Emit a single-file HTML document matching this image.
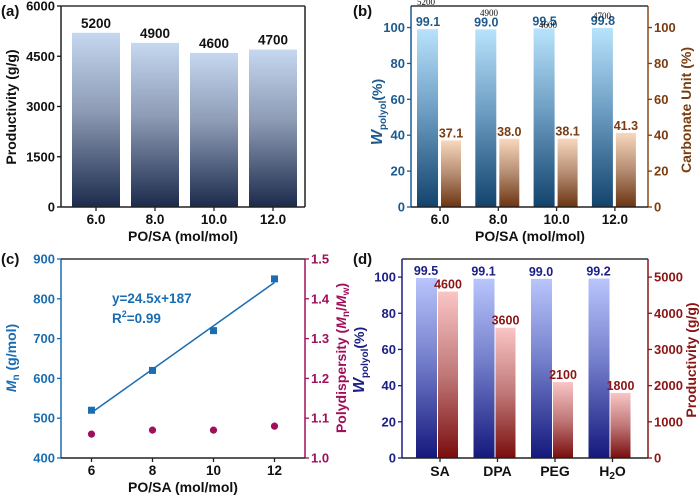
<!DOCTYPE html>
<html><head><meta charset="utf-8">
<style>
html,body{margin:0;padding:0;background:#fff;}
svg{display:block;font-family:"Liberation Sans",Arial,sans-serif;font-weight:bold;}
</style></head>
<body>
<svg id="fig" width="700" height="496" viewBox="0 0 700 496" xmlns="http://www.w3.org/2000/svg">
<defs>
<linearGradient id="gA" x1="0" y1="0" x2="0" y2="1"><stop offset="0" stop-color="#c6d7f0"/><stop offset="0.45" stop-color="#8d9bb5"/><stop offset="1" stop-color="#1c2b4c"/></linearGradient>
<linearGradient id="gB1" x1="0" y1="0" x2="0" y2="1"><stop offset="0" stop-color="#b9e3fc"/><stop offset="0.45" stop-color="#6f9fc4"/><stop offset="1" stop-color="#12436d"/></linearGradient>
<linearGradient id="gB2" x1="0" y1="0" x2="0" y2="1"><stop offset="0" stop-color="#f8d8bd"/><stop offset="0.5" stop-color="#b58d72"/><stop offset="1" stop-color="#6c3411"/></linearGradient>
<linearGradient id="gD1" x1="0" y1="0" x2="0" y2="1"><stop offset="0" stop-color="#b9c5fc"/><stop offset="0.45" stop-color="#7580cc"/><stop offset="1" stop-color="#14187c"/></linearGradient>
<linearGradient id="gD2" x1="0" y1="0" x2="0" y2="1"><stop offset="0" stop-color="#fac5c5"/><stop offset="0.5" stop-color="#c07878"/><stop offset="1" stop-color="#7a0d0d"/></linearGradient>
</defs>
</svg>
<script>
// ---- data ----
const catsA = ["6.0","8.0","10.0","12.0"];
const prodA = [5200,4900,4600,4700];
const ticksA = [0,1500,3000,4500,6000];
const catsB = ["6.0","8.0","10.0","12.0"];
const wpolB = [99.1,99.0,99.5,99.8];
const wpolLabelsB = ["99.1","99.0","99.5","99.8"];
const carbB = [37.1,38.0,38.1,41.3];
const ticksB = [0,20,40,60,80,100];
const xC = [6,8,10,12];
const mnC = [520,620,720,850];
const pdiC = [1.06,1.07,1.07,1.08];
const ticksCx = [6,8,10,12];
const ticksCl = [400,500,600,700,800,900];
const ticksCr = [1.0,1.1,1.2,1.3,1.4,1.5];
const catsD = ["SA","DPA","PEG","H2O"];
const wpolD = [99.5,99.1,99.0,99.2];
const prodD = [4600,3600,2100,1800];
const ticksDl = [0,20,40,60,80,100];
const ticksDr = [0,1000,2000,3000,4000,5000];

const NS="http://www.w3.org/2000/svg";
const svg=document.getElementById('fig');
function el(tag,attrs,parent,txt){const e=document.createElementNS(NS,tag);for(const k in attrs)e.setAttribute(k,attrs[k]);if(txt!==undefined)e.textContent=txt;(parent||svg).appendChild(e);return e;}
function lin(d0,d1,r0,r1){return v=>r0+(v-d0)*(r1-r0)/(d1-d0);}
function axisY(x,ticks,scale,color,side,fmt,g){
  ticks.forEach(t=>{const y=scale(t);
    el('line',{x1:x,x2:x+(side<0?-4:4),y1:y,y2:y,stroke:color,'stroke-width':1.3},g);
    const tx=el('text',{x:x+(side<0?-6:6),y:y+4.5,'font-size':13,fill:color,'text-anchor':side<0?'end':'start'},g,fmt?fmt(t):String(t));
    
    
  });
}
function frame(x0,y0,x1,y1,lc,rc,bc,g){
  el('line',{x1:x0,x2:x0,y1:y0,y2:y1,stroke:lc,'stroke-width':1.5},g);
  el('line',{x1:x1,x2:x1,y1:y0,y2:y1,stroke:rc,'stroke-width':1.5},g);
  el('line',{x1:x0,x2:x1,y1:y0,y2:y0,stroke:'#333','stroke-width':1.5},g);
  el('line',{x1:x0,x2:x1,y1:y1,y2:y1,stroke:bc,'stroke-width':1.5},g);
}
function group(name){const g=el('g',{});return g;}

// ---- Panel A ----
(function(){
  const g=group('panel-a');
  const X0=61,X1=305,Y0=6,Y1=207;
  const y=lin(0,6000,Y1,Y0);
  const cx=i=>96+i*59;
  prodA.forEach((v,i)=>{
    const r=el('rect',{x:cx(i)-24,y:y(v),width:48,height:Y1-y(v),fill:'url(#gA)'},g);
    
    
    const t=el('text',{x:cx(i),y:y(v)-5,'font-size':13.5,'text-anchor':'middle',fill:'#111'},g,String(v));
    
    
    el('line',{x1:cx(i),x2:cx(i),y1:Y1,y2:Y1+4,stroke:'#222','stroke-width':1.3},g);
    el('text',{x:cx(i),y:Y1+17,'font-size':13.5,'text-anchor':'middle',fill:'#111'},g,catsA[i]);
  });
  frame(X0,Y0,X1,Y1,'#222','#222','#222',g);
  axisY(X0,ticksA,y,'#111',-1,null,g);
  el('text',{x:183,y:241,'font-size':14,'text-anchor':'middle',fill:'#111'},g,'PO/SA (mol/mol)');
  el('text',{x:0,y:0,'font-size':14,'text-anchor':'middle',fill:'#111',transform:'translate(16,107) rotate(-90)'},g,'Productivity (g/g)');
  el('text',{x:1,y:16,'font-size':15,fill:'#111'},g,'(a)');
})();

// ---- Panel B ----
(function(){
  const g=group('panel-b');
  const X0=411,X1=648,Y0=6,Y1=207;
  const y=lin(0,112,Y1,Y0);
  const cx=i=>440+i*58.3;
  const bc='#1d5a8f', rc='#7a3c10';
  wpolB.forEach((v,i)=>{
    const r=el('rect',{x:cx(i)-23,y:y(v),width:21,height:Y1-y(v),fill:'url(#gB1)'},g);
    
    
    el('text',{x:cx(i)-12,y:y(v)-3,'font-size':12.5,'text-anchor':'middle',fill:bc},g,wpolLabelsB[i]);
    const c=carbB[i];
    const r2=el('rect',{x:cx(i)+1,y:y(c),width:20,height:Y1-y(c),fill:'url(#gB2)'},g);
    
    
    el('text',{x:cx(i)+11,y:y(c)-3,'font-size':12.5,'text-anchor':'middle',fill:rc},g,c.toFixed(1));
    el('line',{x1:cx(i),x2:cx(i),y1:Y1,y2:Y1+4,stroke:'#222','stroke-width':1.3},g);
    el('text',{x:cx(i),y:Y1+17,'font-size':13.5,'text-anchor':'middle',fill:'#111'},g,catsB[i]);
  });
  // stray overlay labels (artifacts in original)
  const st=[["5200",417,5],["4900",480,16],["4600",539,28],["4700",593,19]];
  st.forEach(s=>el('text',{x:s[1],y:s[2],'font-size':9,'font-family':'Liberation Serif,serif','font-weight':'normal',fill:'#111'},g,s[0]));
  frame(X0,Y0,X1,Y1,bc,'#8a4a1a','#222',g);
  axisY(X0,ticksB,y,bc,-1,null,g);
  axisY(X1,ticksB,y,rc,1,null,g);
  el('text',{x:530,y:241,'font-size':14,'text-anchor':'middle',fill:'#111'},g,'PO/SA (mol/mol)');
  const t=el('text',{x:0,y:0,'font-size':14,'text-anchor':'middle',fill:bc,transform:'translate(382,112) rotate(-90)'},g);
  
  el('tspan',{'font-style':'italic','font-size':16},t,'W');
  el('tspan',{'font-size':10,dy:4},t,'polyol');
  el('tspan',{dy:-4},t,'(%)');
  el('text',{x:0,y:0,'font-size':14,'text-anchor':'middle',fill:rc,transform:'translate(691,110) rotate(-90)'},g,'Carbonate Unit (%)');
  el('text',{x:353,y:16,'font-size':15,fill:'#111'},g,'(b)');
})();

// ---- Panel C ----
(function(){
  const g=group('panel-c');
  const X0=61,X1=305,Y0=259,Y1=458;
  const x=lin(5,13,X0,X1), yl=lin(400,900,Y1,Y0), yr=lin(1.0,1.5,Y1,Y0);
  const bc='#1a6db3', mc='#a0105a';
  // regression
  const n=xC.length, mx=xC.reduce((a,b)=>a+b)/n, my=mnC.reduce((a,b)=>a+b)/n;
  let sxy=0,sxx=0; xC.forEach((v,i)=>{sxy+=(v-mx)*(mnC[i]-my);sxx+=(v-mx)*(v-mx);});
  const sl=sxy/sxx, ic=my-sl*mx;
  const fx0=xC[0], fx1=xC[n-1];
  const fl=el('line',{x1:x(fx0),y1:yl(sl*fx0+ic),x2:x(fx1),y2:yl(sl*fx1+ic),stroke:bc,'stroke-width':1.5},g);
  
  
  xC.forEach((v,i)=>{
    const s=el('rect',{x:x(v)-3.5,y:yl(mnC[i])-3.5,width:7,height:7,fill:bc},g);
    
    
    const c=el('circle',{cx:x(v),cy:yr(pdiC[i]),r:3.6,fill:mc},g);
    
    
  });
  ticksCx.forEach(t=>{
    el('line',{x1:x(t),x2:x(t),y1:Y1,y2:Y1+4,stroke:'#222','stroke-width':1.3},g);
    el('text',{x:x(t),y:Y1+17,'font-size':13.5,'text-anchor':'middle',fill:'#111'},g,String(t));
  });
  frame(X0,Y0,X1,Y1,bc,mc,'#222',g);
  axisY(X0,ticksCl,yl,bc,-1,null,g);
  axisY(X1,ticksCr,yr,mc,1,t=>t.toFixed(1),g);
  el('text',{x:112,y:303,'font-size':13.5,fill:bc},g,'y=24.5x+187');
  const r2=el('text',{x:112,y:323,'font-size':13.5,fill:bc},g);
  
  el('tspan',{},r2,'R');el('tspan',{'font-size':9,dy:-6},r2,'2');el('tspan',{dy:6},r2,'=0.99');
  el('text',{x:183,y:492,'font-size':14,'text-anchor':'middle',fill:'#111'},g,'PO/SA (mol/mol)');
  const t=el('text',{x:0,y:0,'font-size':14,'text-anchor':'middle',fill:bc,transform:'translate(16,358) rotate(-90)'},g);
  
  el('tspan',{'font-style':'italic'},t,'M');el('tspan',{'font-size':10,dy:3},t,'n');el('tspan',{dy:-3},t,' (g/mol)');
  const t2=el('text',{x:0,y:0,'font-size':14,'text-anchor':'middle',fill:mc,transform:'translate(346,358) rotate(-90)'},g);
  
  el('tspan',{},t2,'Polydispersity (');el('tspan',{'font-style':'italic'},t2,'M');el('tspan',{'font-size':10,dy:3},t2,'n');
  el('tspan',{dy:-3},t2,'/');el('tspan',{'font-style':'italic'},t2,'M');el('tspan',{'font-size':10,dy:3},t2,'w');el('tspan',{dy:-3},t2,')');
  el('text',{x:1,y:264,'font-size':15,fill:'#111'},g,'(c)');
})();

// ---- Panel D ----
(function(){
  const g=group('panel-d');
  const X0=402,X1=648,Y0=259,Y1=458;
  const yl=lin(0,110,Y1,Y0), yr=lin(0,5500,Y1,Y0);
  const cx=i=>440+i*57.5;
  const bc='#1c2085', rc='#8b1515';
  wpolD.forEach((v,i)=>{
    const r=el('rect',{x:cx(i)-24,y:yl(v),width:21,height:Y1-yl(v),fill:'url(#gD1)'},g);
    
    
    el('text',{x:cx(i)-14,y:yl(v)-3,'font-size':12.5,'text-anchor':'middle',fill:bc},g,v.toFixed(1));
    const p=prodD[i];
    const r2=el('rect',{x:cx(i)-2,y:yr(p),width:20,height:Y1-yr(p),fill:'url(#gD2)'},g);
    
    
    el('text',{x:cx(i)+8,y:yr(p)-3,'font-size':12.5,'text-anchor':'middle',fill:rc},g,String(p));
    el('line',{x1:cx(i),x2:cx(i),y1:Y1,y2:Y1+4,stroke:'#222','stroke-width':1.3},g);
    const lt=el('text',{x:cx(i),y:Y1+18,'font-size':14,'text-anchor':'middle',fill:'#111'},g);
    if(catsD[i]==='H2O'){el('tspan',{},lt,'H');el('tspan',{'font-size':10,dy:3},lt,'2');el('tspan',{dy:-3},lt,'O');}
    else lt.textContent=catsD[i];
  });
  frame(X0,Y0,X1,Y1,bc,rc,'#222',g);
  axisY(X0,ticksDl,yl,bc,-1,null,g);
  axisY(X1,ticksDr,yr,rc,1,null,g);
  const t=el('text',{x:0,y:0,'font-size':14,'text-anchor':'middle',fill:bc,transform:'translate(364,360) rotate(-90)'},g);
  
  el('tspan',{'font-style':'italic','font-size':16},t,'W');
  el('tspan',{'font-size':10,dy:4},t,'polyol');
  el('tspan',{dy:-4},t,'(%)');
  el('text',{x:0,y:0,'font-size':14,'text-anchor':'middle',fill:rc,transform:'translate(696,360) rotate(-90)'},g,'Productivity (g/g)');
  el('text',{x:353,y:264,'font-size':15,fill:'#111'},g,'(d)');
})();
</script>
</body></html>
